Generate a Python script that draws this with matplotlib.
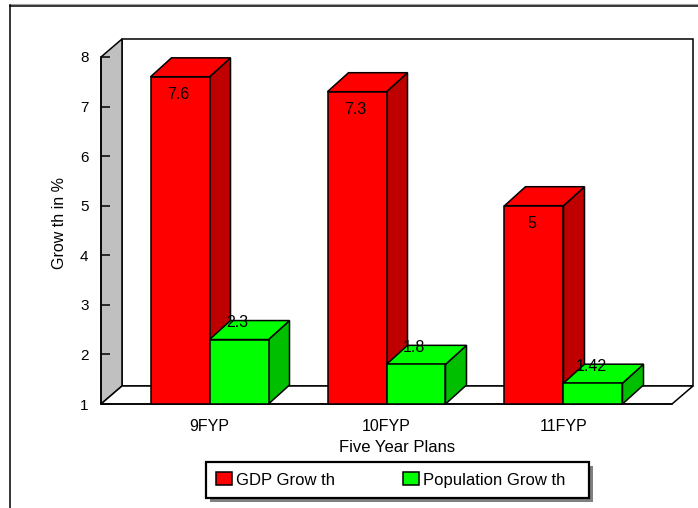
import matplotlib
matplotlib.use("Agg")
import matplotlib.pyplot as plt
from matplotlib.lines import Line2D
from matplotlib.patches import Patch, Polygon, Rectangle

plt.rcParams["font.family"] = ["Liberation Sans", "DejaVu Sans"]
plt.rcParams["font.size"] = 10.5

plans = ["9FYP", "10FYP", "11FYP"]
gdp_growth = [7.6, 7.3, 5]
population_growth = [2.3, 1.8, 1.42]
gdp_labels = ["7.6", "7.3", "5"]
population_labels = ["2.3", "1.8", "1.42"]
y_ticks = [1, 2, 3, 4, 5, 6, 7, 8]

W, H = 698, 508
RED, RED_SIDE = "#ff0000", "#bf0000"
GREEN, GREEN_SIDE = "#00ff00", "#00bf00"
LW = 1.1
WIDE_TEXT = 11.5

fig = plt.figure(figsize=(W / 100, H / 100), dpi=100, facecolor="white")
ax = fig.add_axes([101 / W, (H - 404) / H, 571 / W, 347 / H], facecolor="none")

x_min, x_max = -0.613, 2.613
y_min, y_max = 1, 8
ax.set_xlim(x_min, x_max)
ax.set_ylim(y_min, y_max)

# Oblique depth of the pseudo-3D box, in data units
px_x = (x_max - x_min) / 571
px_y = (y_max - y_min) / 347
depth_x, depth_y = 21 * px_x, 18 * px_y
bar_depth_x, bar_depth_y = 21 * px_x, 19 * px_y


def face(points, color, z):
    ax.add_patch(Polygon(points, closed=True, facecolor=color, edgecolor="black",
                         linewidth=LW, joinstyle="miter", clip_on=False, zorder=z))


# Walls and floor
face([(x_min + depth_x, y_min + depth_y), (x_max + depth_x, y_min + depth_y),
      (x_max + depth_x, y_max + depth_y), (x_min + depth_x, y_max + depth_y)], "white", 1)
face([(x_min, y_min), (x_min + depth_x, y_min + depth_y),
      (x_min + depth_x, y_max + depth_y), (x_min, y_max)], "#c0c0c0", 1.1)
face([(x_min, y_min), (x_max, y_min), (x_max + depth_x, y_min + depth_y),
      (x_min + depth_x, y_min + depth_y)], "white", 1.2)

bar_w = 59 / 177


def bar3d(x0, value, front, side, z):
    x1 = x0 + bar_w
    ax.bar(x0, value - y_min, width=bar_w, bottom=y_min, align="edge", color=front,
           edgecolor="black", linewidth=LW, clip_on=False, zorder=z + 0.2)
    face([(x1, y_min), (x1 + bar_depth_x, y_min + bar_depth_y),
          (x1 + bar_depth_x, value + bar_depth_y), (x1, value)], side, z)
    face([(x0, value), (x1, value), (x1 + bar_depth_x, value + bar_depth_y),
          (x0 + bar_depth_x, value + bar_depth_y)], front, z + 0.1)


for i in range(len(plans)):
    bar3d(i - bar_w, gdp_growth[i], RED, RED_SIDE, 2 + i)
    bar3d(i, population_growth[i], GREEN, GREEN_SIDE, 2.5 + i)
    ax.annotate(gdp_labels[i], (i - bar_w / 2, gdp_growth[i]), xytext=(-1.5, -13),
                textcoords="offset points", ha="center", va="center", zorder=10,
                fontsize=WIDE_TEXT)
    ax.annotate(population_labels[i], (i + bar_w / 2, population_growth[i]),
                xytext=(-1.5, 12.3), textcoords="offset points", ha="center",
                va="center", zorder=10, fontsize=WIDE_TEXT)

# Axes furniture
for name in ("top", "right"):
    ax.spines[name].set_visible(False)
for name in ("left", "bottom"):
    ax.spines[name].set_linewidth(LW)
    ax.spines[name].set_zorder(1.5)
ax.set_yticks(y_ticks)
ax.tick_params(axis="y", direction="in", length=6.5, width=LW, pad=9, zorder=5,
               labelsize=11)
ax.set_xticks(range(len(plans)), plans)
ax.tick_params(axis="x", length=0, pad=10.5, labelsize=WIDE_TEXT)
ax.set_xlabel("Five Year Plans", fontsize=12)
ax.xaxis.set_label_coords((397 - 101) / 571, -(448 - 404) / 347)
ax.xaxis.label.set_verticalalignment("center")
ax.set_ylabel("Grow th in %", fontsize=11.5)
ax.yaxis.set_label_coords((60 - 101) / 571, (404 - 223) / 347)
ax.yaxis.label.set_verticalalignment("center")


def fx(px):
    return px / W


def fy(px):
    return 1 - px / H


# Outer chart frame, open to the right and bottom
fig.add_artist(Line2D([fx(10), fx(W)], [fy(4), fy(4)], color="#a0a0a0", lw=0.8))
fig.add_artist(Line2D([fx(10), fx(W)], [fy(5.5), fy(5.5)], color="black", lw=LW))
fig.add_artist(Line2D([fx(10), fx(10)], [fy(5), fy(H)], color="black", lw=LW))

# Legend box with its drop shadow
fig.add_artist(Rectangle((fx(210), fy(502)), 383 / W, 36 / H, facecolor="#808080",
                         edgecolor="none", transform=fig.transFigure))
fig.add_artist(Rectangle((fx(206), fy(498)), 383 / W, 36 / H, facecolor="white",
                         edgecolor="black", linewidth=1.6, transform=fig.transFigure))
handles = [Patch(facecolor=RED, edgecolor="black", linewidth=LW, label="GDP Grow th"),
           Patch(facecolor=GREEN, edgecolor="black", linewidth=LW, label="Population Grow th")]
legend = fig.legend(handles=handles, ncol=2, frameon=False, loc="center left",
                    bbox_to_anchor=(fx(216), fy(480)), borderaxespad=0, borderpad=0,
                    handlelength=0.95, handleheight=0.8, handletextpad=0.25,
                    columnspacing=4.1, fontsize=12)
legend.set_zorder(20)

fig.savefig("out.png", dpi=100)
